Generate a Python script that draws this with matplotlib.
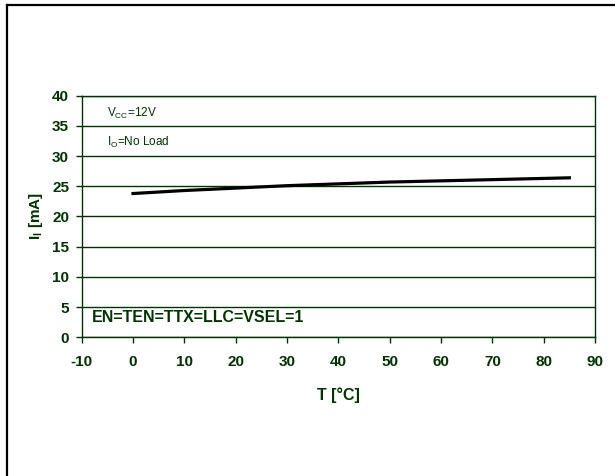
import matplotlib
matplotlib.use('Agg')
import matplotlib.pyplot as plt
from matplotlib.lines import Line2D

plt.rcParams['font.family'] = ['Liberation Sans', 'DejaVu Sans']
plt.rcParams['axes.unicode_minus'] = False

# temperature sweep and supply current
temp_c = [0, 10, 20, 30, 40, 50, 60, 70, 80, 85]
current_ma = [23.8, 24.3, 24.7, 25.1, 25.4, 25.7, 25.9, 26.1, 26.3, 26.4]

x_ticks = [-10, 0, 10, 20, 30, 40, 50, 60, 70, 80, 90]
y_ticks = [0, 5, 10, 15, 20, 25, 30, 35, 40]

green = '#003300'

fig = plt.figure(figsize=(6.15, 4.76), dpi=100)
ax = fig.add_axes([0.1328, 0.2914, 0.8347, 0.5076])

ax.plot(temp_c, current_ma, color='black', lw=2.3)

ax.set_xlim(-10, 90)
ax.set_ylim(0, 40)
ax.set_xticks(x_ticks)
ax.set_yticks(y_ticks)
ax.grid(axis='y', color=green, lw=1)
ax.set_axisbelow(True)

for s in ax.spines.values():
    s.set_color(green)
    s.set_linewidth(1)

ax.tick_params(colors=green, labelcolor=green, length=4, width=1)
ax.tick_params(axis='x', pad=9)
ax.tick_params(axis='y', pad=5)
for lab in ax.get_xticklabels() + ax.get_yticklabels():
    lab.set_fontsize(11)
    lab.set_fontweight('bold')

ax.set_xlabel('T [°C]', fontsize=11.5, fontweight='bold', color=green, labelpad=13)
ax.set_ylabel(r'I$_\mathregular{I}$ [mA]', fontsize=11, fontweight='bold', color=green, labelpad=5)

ax.text(-5.1, 37.1, r'V$_\mathregular{CC}$=12V', fontsize=8.5, color=green, va='center')
ax.text(-5.1, 32.2, r'I$_\mathregular{O}$=No Load', fontsize=8.5, color=green, va='center')
ax.text(-8.0, 3.2, 'EN=TEN=TTX=LLC=VSEL=1', fontsize=11.5, fontweight='bold',
        color=green, va='center')

# frame lines on top and left of the picture
fig.add_artist(Line2D([7 / 615, 7 / 615], [0, 1 - 5 / 476], color='black', lw=1.6,
                      transform=fig.transFigure))
fig.add_artist(Line2D([7 / 615, 1], [1 - 5 / 476, 1 - 5 / 476], color='black', lw=1.6,
                      transform=fig.transFigure))

fig.savefig('out.png', dpi=100)
